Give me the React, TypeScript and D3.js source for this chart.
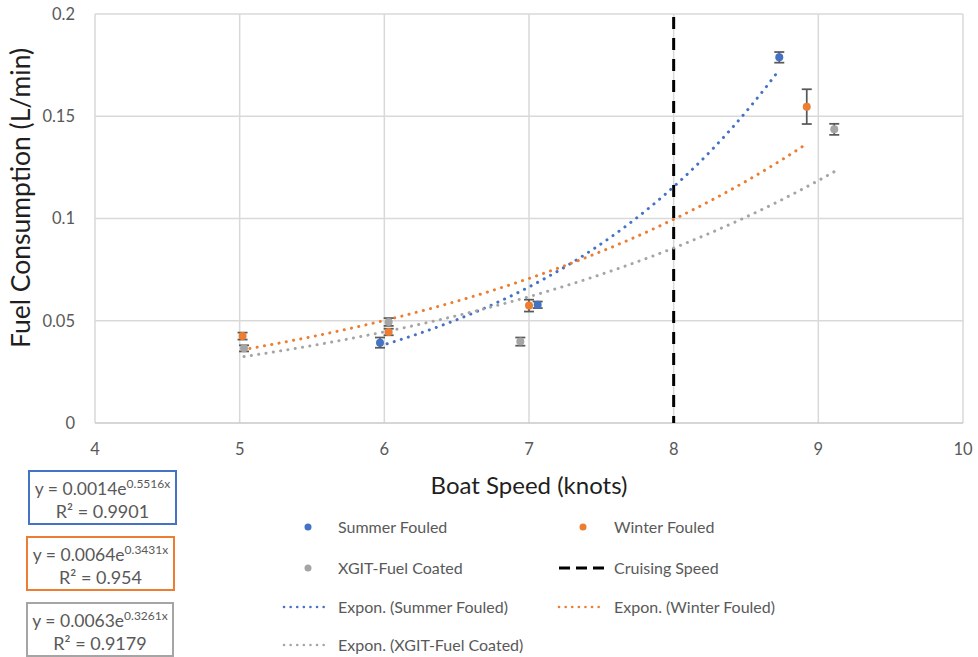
import React from "react";
import * as d3 from "d3";

// Measured series: boat speed (knots), fuel consumption (L/min) and error half-widths
const summerX = [5.97, 7.06, 8.73];
const summerY = [0.0393, 0.0578, 0.1788];
const summerErr = [0.0025, 0.0016, 0.0026];

const winterX = [5.02, 6.03, 7.0, 8.92];
const winterY = [0.0425, 0.0445, 0.0574, 0.1547];
const winterErr = [0.0017, 0.0016, 0.0029, 0.0085];

const xgitX = [5.03, 6.03, 6.94, 9.11];
const xgitY = [0.0365, 0.0494, 0.0398, 0.1436];
const xgitErr = [0.0015, 0.0019, 0.002, 0.0027];

// Exponential fits y = a * e^(b x)
const summerFit = { a: 0.0014, b: 0.5516, r2: "0.9901" };
const winterFit = { a: 0.0064, b: 0.3431, r2: "0.954" };
const xgitFit = { a: 0.0063, b: 0.3261, r2: "0.9179" };

const cruisingSpeed = 8;

const xTicks = [4, 5, 6, 7, 8, 9, 10];
const yTicks = [0, 0.05, 0.1, 0.15, 0.2];
const yTickLabels = ["0", "0.05", "0.1", "0.15", "0.2"];

const BLUE = "#4472C4";
const ORANGE = "#ED7D31";
const GRAY = "#A5A5A5";
const TEXT = "#595959";
const FONT = "Lato, 'Open Sans', sans-serif";

const x = d3.scaleLinear().domain([4, 10]).range([95, 963]);
const y = d3.scaleLinear().domain([0, 0.2]).range([423, 14]);

type Series = {
  name: string;
  color: string;
  xs: number[];
  ys: number[];
  errs: number[];
  fit: { a: number; b: number; r2: string };
};

const series: Series[] = [
  { name: "Summer Fouled", color: BLUE, xs: summerX, ys: summerY, errs: summerErr, fit: summerFit },
  { name: "Winter Fouled", color: ORANGE, xs: winterX, ys: winterY, errs: winterErr, fit: winterFit },
  { name: "XGIT-Fuel Coated", color: GRAY, xs: xgitX, ys: xgitY, errs: xgitErr, fit: xgitFit },
];

const fitLine = d3
  .line<number>()
  .x((v) => x(v))
  .curve(d3.curveLinear);

function fitPath(s: Series) {
  const lo = d3.min(s.xs) as number;
  const hi = d3.max(s.xs) as number;
  const n = 120;
  const pts = d3.range(n + 1).map((i) => lo + ((hi - lo) * i) / n);
  return fitLine.y((v) => y(s.fit.a * Math.exp(s.fit.b * v)))(pts) || "";
}

const DOTS = "0.1 7.3";

function EquationBox({ s, top, left, width }: { s: Series; top: number; left: number; width: number }) {
  const cx = left + width / 2;
  const exp = s.fit.b.toFixed(4) + "x";
  return (
    <g>
      <rect x={left} y={top} width={width} height={53} fill="#fff" stroke={s.color} strokeWidth={2} />
      <text x={cx} y={top + 24} textAnchor="middle" fontSize={17.5} fill={TEXT} fontFamily={FONT}>
        {"y = " + s.fit.a.toFixed(4) + "e"}
        <tspan fontSize={12} dy={-7}>{exp}</tspan>
      </text>
      <text x={cx} y={top + 47} textAnchor="middle" fontSize={18} fill={TEXT} fontFamily={FONT}>
        {"R² = " + s.fit.r2}
      </text>
    </g>
  );
}

export default function App() {
  const [y0, y1] = y.range();
  const [x0, x1] = x.range();
  return (
    <svg
      width={978}
      height={657}
      style={{ position: "absolute", left: 0, top: 0, display: "block", background: "#fff" }}
    >
      <rect width={978} height={657} fill="#fff" />
      {/* gridlines */}
      {xTicks.map((t) => (
        <line key={"gx" + t} x1={x(t)} x2={x(t)} y1={y1} y2={y0} stroke="#d9d9d9" strokeWidth={1.5} />
      ))}
      {yTicks.map((t) => (
        <line
          key={"gy" + t}
          x1={x0}
          x2={x1}
          y1={y(t)}
          y2={y(t)}
          stroke={t === 0 ? "#c8c8c8" : "#d9d9d9"}
          strokeWidth={1.5}
        />
      ))}
      {/* tick labels */}
      {yTicks.map((t, i) => (
        <text
          key={"ty" + t}
          x={75}
          y={y(t)}
          dy="0.35em"
          textAnchor="end"
          fontSize={16.5}
          fill={TEXT}
          fontFamily={FONT}
        >
          {yTickLabels[i]}
        </text>
      ))}
      {xTicks.map((t) => (
        <text
          key={"tx" + t}
          x={x(t)}
          y={449}
          dy="0.35em"
          textAnchor="middle"
          fontSize={16.5}
          fill={TEXT}
          fontFamily={FONT}
        >
          {t}
        </text>
      ))}
      {/* axis titles */}
      <text x={529} y={486} dy="0.35em" textAnchor="middle" fontSize={24} fill="#1f1f1f" fontFamily={FONT}>
        Boat Speed (knots)
      </text>
      <text
        transform={`translate(21,${198}) rotate(-90)`}
        textAnchor="middle"
        dy="0.35em"
        fontSize={26.5}
        fill="#1f1f1f"
        fontFamily={FONT}
      >
        Fuel Consumption (L/min)
      </text>

      {/* cruising speed */}
      <line
        x1={x(cruisingSpeed)}
        x2={x(cruisingSpeed)}
        y1={y(0.2) + 3}
        y2={y(0)}
        stroke="#000"
        strokeWidth={3}
        strokeDasharray="12 9"
      />

      {/* exponential trendlines */}
      {series.map((s) => (
        <path
          key={"fit" + s.name}
          d={fitPath(s)}
          fill="none"
          stroke={s.color}
          strokeWidth={3}
          strokeLinecap="round"
          strokeDasharray={DOTS}
        />
      ))}

      {/* error bars */}
      {series.map((s) =>
        s.xs.map((v, i) => {
          const cx = x(v);
          const top = y(s.ys[i] + s.errs[i]);
          const bot = y(s.ys[i] - s.errs[i]);
          return (
            <g key={"e" + s.name + i} stroke="#595959" strokeWidth={1.75}>
              <line x1={cx} x2={cx} y1={top} y2={bot} />
              <line x1={cx - 5} x2={cx + 5} y1={top} y2={top} />
              <line x1={cx - 5} x2={cx + 5} y1={bot} y2={bot} />
            </g>
          );
        })
      )}

      {/* markers */}
      {series.map((s) =>
        s.xs.map((v, i) => (
          <circle key={"m" + s.name + i} cx={x(v)} cy={y(s.ys[i])} r={4} fill={s.color} />
        ))
      )}

      {/* equation boxes */}
      <EquationBox s={series[0]} top={471} left={29} width={147} />
      <EquationBox s={series[1]} top={537} left={27} width={147} />
      <EquationBox s={series[2]} top={603} left={27} width={146} />

      {/* legend */}
      <g fontFamily={FONT} fontSize={16} fill={TEXT}>
        <circle cx={308} cy={527} r={3.5} fill={BLUE} />
        <text x={338} y={527} dy="0.35em">Summer Fouled</text>
        <circle cx={583} cy={527} r={3.5} fill={ORANGE} />
        <text x={614} y={527} dy="0.35em">Winter Fouled</text>

        <circle cx={308} cy={568} r={3.5} fill={GRAY} />
        <text x={338} y={568} dy="0.35em">XGIT-Fuel Coated</text>
        <line x1={559} x2={605} y1={568} y2={568} stroke="#000" strokeWidth={3} strokeDasharray="11 6" />
        <text x={614} y={568} dy="0.35em">Cruising Speed</text>

        <line
          x1={284}
          x2={330}
          y1={607}
          y2={607}
          stroke={BLUE}
          strokeWidth={2.5}
          strokeLinecap="round"
          strokeDasharray="0.1 6.5"
        />
        <text x={338} y={607} dy="0.35em">Expon. (Summer Fouled)</text>
        <line
          x1={559}
          x2={605}
          y1={607}
          y2={607}
          stroke={ORANGE}
          strokeWidth={2.5}
          strokeLinecap="round"
          strokeDasharray="0.1 6.5"
        />
        <text x={614} y={607} dy="0.35em">Expon. (Winter Fouled)</text>

        <line
          x1={284}
          x2={330}
          y1={645}
          y2={645}
          stroke={GRAY}
          strokeWidth={2.5}
          strokeLinecap="round"
          strokeDasharray="0.1 6.5"
        />
        <text x={338} y={645} dy="0.35em">Expon. (XGIT-Fuel Coated)</text>
      </g>
    </svg>
  );
}
